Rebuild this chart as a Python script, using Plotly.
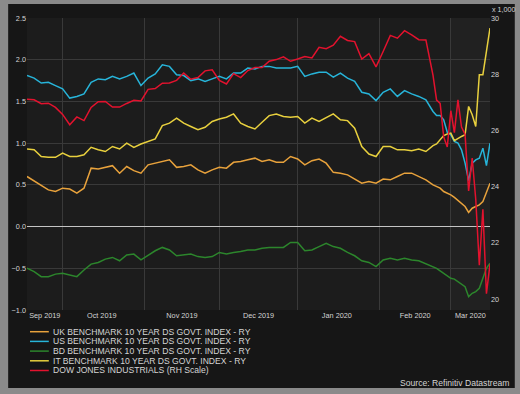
import plotly.graph_objects as go

# ---------------- data ----------------
dates = ["2019-09-17","2019-09-19","2019-09-23","2019-09-25","2019-09-27",
         "2019-10-01","2019-10-03","2019-10-07","2019-10-09","2019-10-11","2019-10-15","2019-10-17",
         "2019-10-21","2019-10-23","2019-10-25","2019-10-29","2019-10-31",
         "2019-11-04","2019-11-06","2019-11-08","2019-11-12","2019-11-14","2019-11-18","2019-11-20",
         "2019-11-22","2019-11-26","2019-11-28",
         "2019-12-02","2019-12-04","2019-12-06","2019-12-10","2019-12-12","2019-12-16","2019-12-18",
         "2019-12-20","2019-12-24","2019-12-26","2019-12-30",
         "2020-01-01","2020-01-03","2020-01-07","2020-01-09","2020-01-13","2020-01-15","2020-01-17",
         "2020-01-21","2020-01-23","2020-01-27","2020-01-29","2020-01-31",
         "2020-02-04","2020-02-06","2020-02-10","2020-02-12","2020-02-14","2020-02-18","2020-02-20",
         "2020-02-24","2020-02-25","2020-02-26","2020-02-27","2020-02-28",
         "2020-03-02","2020-03-03","2020-03-04","2020-03-05","2020-03-06","2020-03-09","2020-03-10",
         "2020-03-11","2020-03-12","2020-03-13","2020-03-16","2020-03-17"]

uk_yield = [0.60, 0.55, 0.49, 0.44, 0.42,
            0.46, 0.45, 0.40, 0.46, 0.70, 0.69, 0.71, 0.73, 0.64, 0.72, 0.67, 0.64,
            0.74, 0.76, 0.78, 0.80, 0.71, 0.72, 0.74, 0.68, 0.64, 0.68,
            0.71, 0.70, 0.77, 0.78, 0.80, 0.82, 0.78, 0.80, 0.77, 0.77, 0.84,
            0.81, 0.74, 0.79, 0.81, 0.76, 0.65, 0.64, 0.62, 0.57, 0.52, 0.54, 0.52,
            0.57, 0.56, 0.60, 0.64, 0.64, 0.60, 0.56, 0.50, 0.48, 0.46, 0.42, 0.40,
            0.38, 0.35, 0.31, 0.28, 0.24, 0.17, 0.22, 0.24, 0.26, 0.30, 0.40, 0.52]

us_yield = [1.81, 1.78, 1.72, 1.73, 1.69,
            1.65, 1.54, 1.56, 1.59, 1.73, 1.77, 1.76, 1.80, 1.77, 1.80, 1.84, 1.69,
            1.78, 1.83, 1.94, 1.92, 1.82, 1.81, 1.75, 1.77, 1.74, 1.77,
            1.80, 1.77, 1.84, 1.84, 1.90, 1.89, 1.92, 1.92, 1.90, 1.90, 1.90,
            1.92, 1.80, 1.83, 1.85, 1.85, 1.79, 1.84, 1.78, 1.74, 1.61, 1.59, 1.51,
            1.61, 1.65, 1.56, 1.63, 1.59, 1.56, 1.52, 1.38, 1.33, 1.33, 1.28, 1.13,
            1.10, 1.02, 1.00, 0.92, 0.76, 0.55, 0.76, 0.80, 0.82, 0.94, 0.73, 1.00]

bd_yield = [-0.50, -0.54, -0.60, -0.60, -0.57,
            -0.56, -0.58, -0.60, -0.52, -0.45, -0.43, -0.39, -0.37, -0.41, -0.34, -0.33, -0.40,
            -0.34, -0.29, -0.25, -0.28, -0.35, -0.34, -0.33, -0.36, -0.37, -0.36,
            -0.31, -0.33, -0.31, -0.30, -0.28, -0.28, -0.26, -0.25, -0.25, -0.25, -0.19,
            -0.19, -0.29, -0.28, -0.24, -0.20, -0.24, -0.26, -0.31, -0.35, -0.41, -0.43, -0.48,
            -0.40, -0.38, -0.40, -0.38, -0.40, -0.41, -0.45, -0.49, -0.50, -0.53, -0.56, -0.60,
            -0.62, -0.63, -0.66, -0.69, -0.72, -0.84, -0.80, -0.78, -0.74, -0.62, -0.50, -0.44]

it_yield = [0.93, 0.92, 0.84, 0.83, 0.83,
            0.88, 0.84, 0.84, 0.86, 0.95, 0.92, 0.90, 0.96, 0.93, 1.00, 0.95, 0.99,
            1.02, 1.05, 1.21, 1.24, 1.30, 1.24, 1.20, 1.16, 1.19, 1.26,
            1.29, 1.31, 1.35, 1.24, 1.20, 1.17, 1.25, 1.33, 1.35, 1.32, 1.31,
            1.32, 1.24, 1.30, 1.26, 1.31, 1.35, 1.28, 1.27, 1.18, 0.96, 0.87, 0.84,
            0.96, 0.96, 0.92, 0.92, 0.91, 0.93, 0.90, 0.97, 0.99, 1.04, 1.09, 1.11,
            1.12, 1.03, 1.06, 1.08, 1.10, 1.44, 1.34, 1.20, 1.82, 1.82, 2.10, 2.38]

dow_thousands = [27.11, 27.09, 26.95, 26.97, 26.82,
                 26.57, 26.20, 26.48, 26.35, 26.82, 27.02, 27.03, 26.83, 26.83, 26.96, 27.07, 27.05,
                 27.46, 27.49, 27.68, 27.69, 27.78, 28.04, 27.82, 27.88, 28.12, 28.16,
                 27.78, 27.65, 28.02, 27.88, 28.13, 28.24, 28.24, 28.46, 28.52, 28.62, 28.46,
                 28.54, 28.63, 28.58, 28.96, 28.91, 29.03, 29.35, 29.20, 29.16, 28.54, 28.73, 28.26,
                 28.81, 29.38, 29.28, 29.55, 29.40, 29.23, 29.22, 27.96, 27.08, 26.96, 25.77, 25.41,
                 26.70, 25.92, 27.09, 26.12, 25.86, 23.85, 25.02, 23.55, 21.20, 23.19, 20.19, 21.24]

series_names = ["UK BENCHMARK 10 YEAR DS GOVT. INDEX - RY",
                "US BENCHMARK 10 YEAR DS GOVT. INDEX - RY",
                "BD BENCHMARK 10 YEAR DS GOVT. INDEX - RY",
                "IT BENCHMARK 10 YEAR DS GOVT. INDEX - RY",
                "DOW JONES INDUSTRIALS (RH Scale)"]
series_colors = ["#e8a23c", "#27b4d9", "#2c862c", "#e8d03e", "#e3122e"]

month_label_dates = ["2019-09-24", "2019-10-16", "2019-11-15 12:00", "2019-12-17",
                     "2020-01-16", "2020-02-17", "2020-03-09 12:00"]
month_labels = ["Sep 2019", "Oct 2019", "Nov 2019", "Dec 2019", "Jan 2020", "Feb 2020", "Mar 2020"]
month_starts = ["2019-10-01", "2019-11-01", "2019-12-02", "2020-01-01", "2020-02-03", "2020-03-02"]

left_ticks = [-1.0, -0.5, 0.0, 0.5, 1.0, 1.5, 2.0, 2.5]
right_ticks = [20, 22, 24, 26, 28, 30]

# ---------------- layout helpers (pixel -> paper) ----------------
W, H = 520, 394
PL, PR, PT, PB = 23, 490, 18, 310


def px(x):
    return (x - PL) / (PR - PL)


def py(y):
    return (PB - y) / (PB - PT)


FONT = "Liberation Sans, Arial, sans-serif"
TXT = "#d4d4d4"
GRID = "#393939"

fig = go.Figure()
left_series = [uk_yield, us_yield, bd_yield, it_yield]
for name, vals, col in zip(series_names[:4], left_series, series_colors[:4]):
    fig.add_trace(go.Scatter(x=dates, y=vals, mode="lines", name=name,
                             line=dict(color=col, width=1.5), yaxis="y"))
fig.add_trace(go.Scatter(x=dates, y=dow_thousands, mode="lines", name=series_names[4],
                         line=dict(color=series_colors[4], width=1.5), yaxis="y2"))

shapes = [
    # dark panel inside grey frame
    dict(type="rect", xref="paper", yref="paper", x0=px(4), x1=px(515), y0=py(388), y1=py(4),
         fillcolor="#161616", line=dict(width=0), layer="below"),
    # plot area
    dict(type="rect", xref="paper", yref="paper", x0=0, x1=1, y0=0, y1=1,
         fillcolor="#1c1c1c", line=dict(width=0), layer="below"),
    # latest month band
    dict(type="rect", xref="x", yref="paper", x0=month_starts[-1], x1=dates[-1], y0=0, y1=1,
         fillcolor="#212121", line=dict(width=0), layer="below"),
]

annotations = []
for i, (name, col) in enumerate(zip(series_names, series_colors)):
    ly = 331.7 + 9.7 * i
    shapes.append(dict(type="line", xref="paper", yref="paper", x0=px(26), x1=px(45),
                       y0=py(ly), y1=py(ly), line=dict(color=col, width=1.5)))
    annotations.append(dict(text=name, xref="paper", yref="paper", x=px(47), y=py(ly),
                            xanchor="left", yanchor="middle", showarrow=False,
                            font=dict(family=FONT, size=8.6, color=TXT)))

annotations.append(dict(text="Source: Refinitiv Datastream", xref="paper", yref="paper",
                        x=px(511), y=py(383), xanchor="right", yanchor="middle", showarrow=False,
                        font=dict(family=FONT, size=8.6, color=TXT)))
annotations.append(dict(text="x 1,000", xref="paper", yref="paper",
                        x=px(490), y=py(10), xanchor="left", yanchor="middle", showarrow=False,
                        font=dict(family=FONT, size=7.2, color=TXT)))

fig.update_layout(
    width=W, height=H,
    margin=dict(l=PL, r=W - PR, t=PT, b=H - PB),
    paper_bgcolor="#8a8a8a",
    plot_bgcolor="rgba(0,0,0,0)",
    showlegend=False,
    font=dict(family=FONT, color=TXT),
    shapes=shapes,
    annotations=annotations,
    xaxis=dict(
        type="date",
        range=[dates[0], dates[-1]],
        rangebreaks=[dict(bounds=["sat", "mon"])],
        tickmode="array", tickvals=month_label_dates, ticktext=month_labels,
        ticks="", showgrid=False, zeroline=False, showline=False,
        tickfont=dict(family=FONT, size=7.3, color=TXT),
        minor=dict(tickmode="array", tickvals=month_starts, showgrid=True,
                   gridcolor=GRID, gridwidth=1, ticks=""),
    ),
    yaxis=dict(
        range=[-1.0, 2.5], tickmode="array", tickvals=left_ticks, tickformat=".1f",
        showgrid=True, gridcolor=GRID, gridwidth=1,
        zeroline=True, zerolinecolor="#c4c4c4", zerolinewidth=1.2,
        ticks="", showline=False,
        tickfont=dict(family=FONT, size=7.3, color=TXT),
    ),
    yaxis2=dict(
        overlaying="y", side="right", range=[19.61, 30], tickmode="array", tickvals=right_ticks,
        showgrid=False, zeroline=False, ticks="", showline=False,
        tickfont=dict(family=FONT, size=7.3, color=TXT),
    ),
)

fig.write_html("out.html",
               config={"displayModeBar": False, "staticPlot": True},
               post_script="document.body.style.margin='0';document.body.style.overflow='hidden';")
